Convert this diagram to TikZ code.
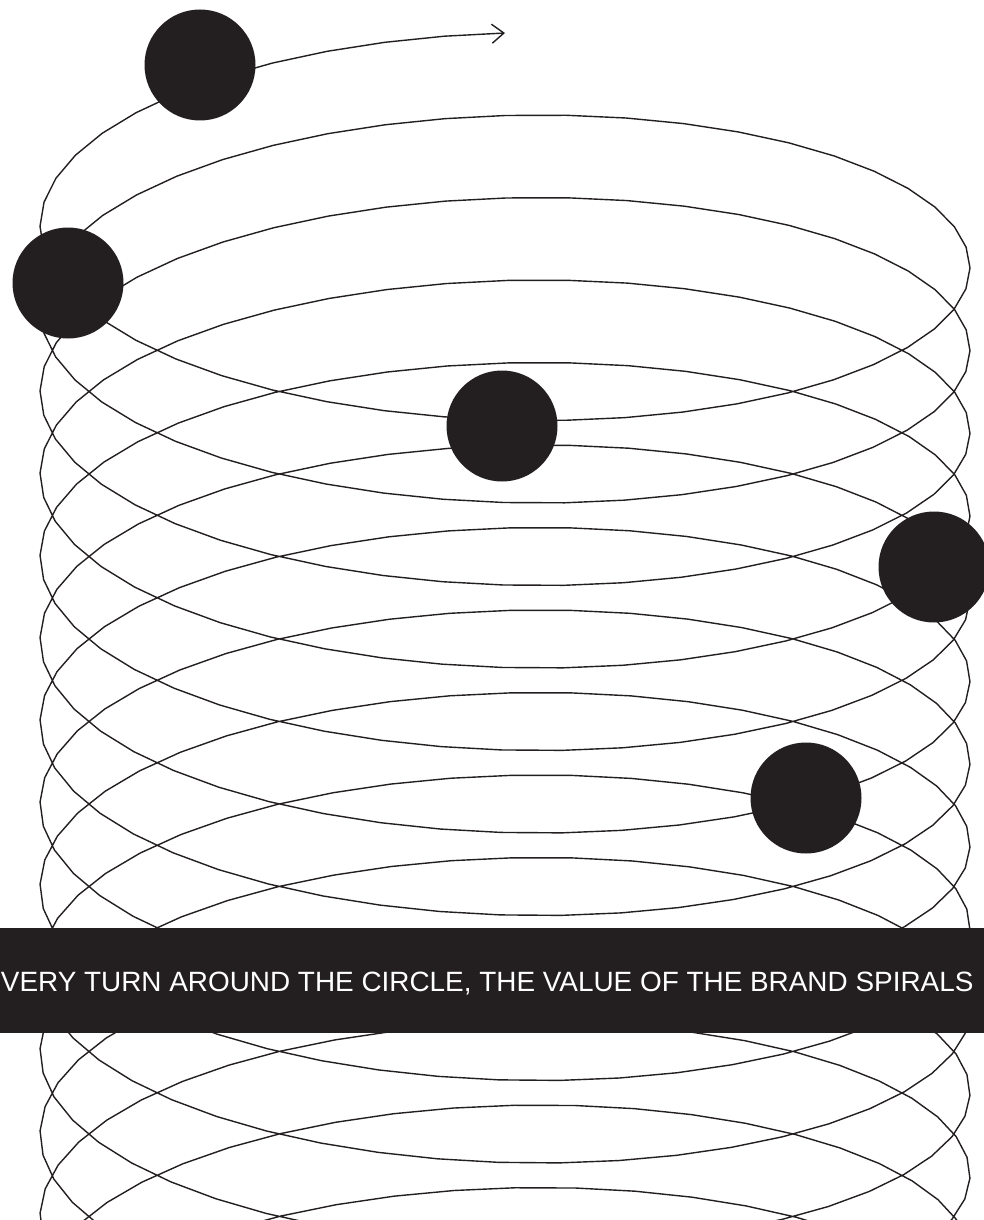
\documentclass[tikz,border=0pt]{standalone}
\usepackage{fontspec}
\setmainfont{Liberation Sans}
\usetikzlibrary{arrows.meta}
\definecolor{ink}{HTML}{231F20}
\begin{document}
\begin{tikzpicture}[x=0.5pt,y=-0.5pt,
  helix/.style={draw=ink, line width=0.7pt, line join=round},
  ball/.style={circle, fill=ink, inner sep=0pt, minimum size=55.5pt},
  banner/.style={fill=ink, inner sep=0pt, minimum width=492pt, minimum height=52.5pt},
  caption/.style={anchor=base west, inner sep=0pt, text=white, font=\fontsize{13.95pt}{16pt}\selectfont}]
\useasboundingbox (0,0) rectangle (984,1220);
\clip (0,0) rectangle (984,1220);
\draw[helix, {Straight Barb[length=6pt,width=9.5pt,line width=0.7pt]}-]
  plot[domain=0:14.5, samples=697]
  ({505-465*sin(360*\x)},{33+82.5*\x+172.9*(1-cos(360*\x))});
\node[ball] (b1) at (200,65) {};
\node[ball] (b2) at (68,283) {};
\node[ball] (b3) at (502,426) {};
\node[ball] (b4) at (934,567) {};
\node[ball] (b5) at (806,798) {};
\node[banner] (band) at (492,980.5) {};
\node[caption] (text) at (0.5,991.5) {VERY TURN AROUND THE CIRCLE, THE VALUE OF THE BRAND SPIRALS};
\end{tikzpicture}
\end{document}
